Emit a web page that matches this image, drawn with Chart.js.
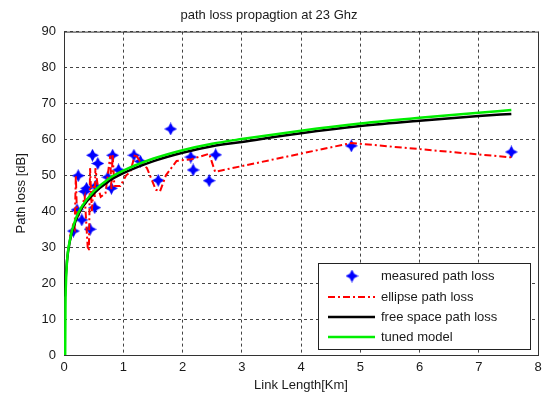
<!DOCTYPE html>
<html>
<head>
<meta charset="utf-8">
<script src="https://cdn.jsdelivr.net/npm/chart.js@4/dist/chart.umd.min.js"></script>
<style>
  html, body { margin: 0; padding: 0; background: #fff; }
  #wrap { width: 555px; height: 396px; }
</style>
</head>
<body>
<div id="wrap"><canvas id="chart" width="555" height="396"></canvas></div>
<script>
// values
const measuredKm = [0.16, 0.22, 0.24, 0.30, 0.35, 0.38, 0.44, 0.48, 0.52, 0.53, 0.57, 0.74, 0.80, 0.82, 0.92, 1.18, 1.29, 1.59, 1.80, 2.14, 2.18, 2.45, 2.56, 4.85, 7.55];
const measuredDb = [34.5, 40.4, 49.9, 37.6, 45.5, 46.4, 35.0, 55.6, 41.0, 47.0, 53.3, 49.5, 46.4, 55.6, 51.5, 55.6, 53.9, 48.6, 62.9, 55.1, 51.5, 48.5, 55.7, 58.2, 56.5];

const ellipseKm = [0.10, 0.15, 0.18, 0.20, 0.22, 0.28, 0.35, 0.40, 0.42, 0.44, 0.47, 0.50, 0.52, 0.53, 0.57, 0.62, 0.70, 0.78, 0.80, 0.82, 0.85, 0.95, 1.05, 1.12, 1.20, 1.28, 1.40, 1.55, 1.62, 1.72, 1.90, 2.15, 2.45, 2.55, 4.85, 7.55];
const ellipseDb = [33.0, 36.0, 35.0, 50.0, 38.0, 40.0, 44.0, 30.0, 29.0, 52.0, 40.0, 47.0, 44.0, 52.0, 47.0, 44.0, 45.0, 55.5, 46.0, 56.0, 47.0, 47.0, 50.0, 51.0, 56.0, 54.0, 52.0, 46.0, 45.5, 50.0, 54.0, 54.5, 56.0, 51.0, 59.0, 55.0];

const freeSpaceKm = [0.015, 0.02, 0.05, 0.1, 0.2, 0.3, 0.5, 0.75, 1, 1.5, 2, 2.5, 3, 4, 5, 6, 7, 7.55];
const freeSpaceDb = [16.3, 18.7, 26.1, 31.8, 37.5, 40.8, 44.9, 48.3, 50.6, 53.9, 56.3, 58.1, 59.3, 61.7, 63.7, 65.2, 66.5, 67.1];

const tunedKm = [0.02, 0.025, 0.03, 0.05, 0.1, 0.2, 0.3, 0.5, 0.75, 1, 1.5, 2, 2.5, 3, 4, 5, 6, 7, 7.55];
const tunedDb = [0, 14.0, 18.5, 25.8, 32.0, 38.0, 41.3, 45.5, 49.0, 51.3, 54.6, 57.0, 58.8, 60.1, 62.4, 64.4, 66.0, 67.4, 68.2];

const xTicks = [0, 1, 2, 3, 4, 5, 6, 7, 8];
const yTicks = [0, 10, 20, 30, 40, 50, 60, 70, 80, 90];

const legendLabels = ['measured path loss', 'ellipse path loss', 'free space path loss', 'tuned model'];

const FONT = '"Liberation Sans", Arial, sans-serif';
const TEXT = '#1a1a1a';

function toPoints(xs, ys) {
    return xs.map((x, i) => ({ x: x, y: ys[i] }));
}

// 4-point blue star marker, like the matlab one in the picture
function makeStar(size) {
    const c = document.createElement('canvas');
    c.width = size;
    c.height = size;
    const g = c.getContext('2d');
    const m = size / 2;
    const k = size * 0.17;
    g.fillStyle = '#0000ff';
    g.beginPath();
    g.moveTo(m, 0);
    g.lineTo(m + k, m - k);
    g.lineTo(size, m);
    g.lineTo(m + k, m + k);
    g.lineTo(m, size);
    g.lineTo(m - k, m + k);
    g.lineTo(0, m);
    g.lineTo(m - k, m - k);
    g.closePath();
    g.fill();
    return c;
}
const star = makeStar(13);

// solid box round the axes (matlab "box on")
const boxPlugin = {
    id: 'box',
    beforeDatasetsDraw(chart) {
        const { ctx, chartArea: a } = chart;
        ctx.save();
        ctx.strokeStyle = '#333';
        ctx.lineWidth = 1;
        ctx.setLineDash([]);
        ctx.strokeRect(a.left + 0.5, a.top + 0.5, a.right - a.left, a.bottom - a.top);
        ctx.restore();
    }
};

// legend drawn inside the plot, bottom right
const insideLegend = {
    id: 'insideLegend',
    afterDraw(chart) {
        const ctx = chart.ctx;
        const left = 318, top = 263, right = 530, bottom = 349;
        const rows = [276, 297, 317, 337];
        ctx.save();
        ctx.fillStyle = '#fff';
        ctx.fillRect(left, top, right - left, bottom - top);
        ctx.strokeStyle = '#222';
        ctx.lineWidth = 1;
        ctx.strokeRect(left + 0.5, top + 0.5, right - left, bottom - top);

        chart.data.datasets.forEach((ds, i) => {
            const y = rows[i];
            if (i === 0) {
                ctx.drawImage(star, 352 - 6.5, y - 6.5);
            } else {
                ctx.strokeStyle = ds.borderColor;
                ctx.lineWidth = ds.borderWidth;
                ctx.setLineDash(ds.borderDash || []);
                ctx.beginPath();
                ctx.moveTo(328, y);
                ctx.lineTo(375, y);
                ctx.stroke();
                ctx.setLineDash([]);
            }
            ctx.fillStyle = TEXT;
            ctx.font = '13px ' + FONT;
            ctx.textBaseline = 'middle';
            ctx.textAlign = 'left';
            ctx.fillText(legendLabels[i], 381, y);
        });
        ctx.restore();
    }
};

new Chart(document.getElementById('chart').getContext('2d'), {
    type: 'scatter',
    data: {
        datasets: [
            {
                label: legendLabels[0],
                data: toPoints(measuredKm, measuredDb),
                showLine: false,
                pointStyle: star,
                pointRadius: 6,
                order: 3
            },
            {
                label: legendLabels[1],
                data: toPoints(ellipseKm, ellipseDb),
                showLine: true,
                borderColor: '#ff0000',
                borderWidth: 2,
                borderDash: [7, 3, 2, 3],
                pointRadius: 0,
                tension: 0,
                order: 2
            },
            {
                label: legendLabels[2],
                data: toPoints(freeSpaceKm, freeSpaceDb),
                showLine: true,
                borderColor: '#000000',
                borderWidth: 2.5,
                pointRadius: 0,
                cubicInterpolationMode: 'monotone',
                order: 1
            },
            {
                label: legendLabels[3],
                data: toPoints(tunedKm, tunedDb),
                showLine: true,
                borderColor: '#00ee00',
                borderWidth: 2.5,
                pointRadius: 0,
                cubicInterpolationMode: 'monotone',
                order: 0
            }
        ]
    },
    options: {
        responsive: false,
        animation: false,
        devicePixelRatio: 1,
        layout: { padding: { left: 0, right: 17, top: 0, bottom: 0 } },
        plugins: {
            legend: { display: false },
            tooltip: { enabled: false },
            title: {
                display: true,
                text: 'path loss propagtion at 23 Ghz',
                color: TEXT,
                font: { family: FONT, size: 13, weight: 'normal' },
                padding: { top: 8, bottom: 8 }
            }
        },
        scales: {
            x: {
                type: 'linear',
                min: 0,
                max: 8,
                afterBuildTicks: s => { s.ticks = xTicks.map(v => ({ value: v })); },
                afterFit: s => { s.height = 41; },
                ticks: {
                    color: TEXT,
                    font: { family: FONT, size: 13 },
                    padding: 5,
                    maxRotation: 0
                },
                grid: {
                    color: '#444',
                    lineWidth: 1,
                    drawTicks: false
                },
                border: { display: false, dash: [3, 3] },
                title: {
                    display: true,
                    text: 'Link Length[Km]',
                    color: TEXT,
                    font: { family: FONT, size: 13 },
                    padding: { top: 0, bottom: 3 }
                }
            },
            y: {
                type: 'linear',
                min: 0,
                max: 90,
                afterBuildTicks: s => { s.ticks = yTicks.map(v => ({ value: v })); },
                afterFit: s => { s.width = 64; },
                ticks: {
                    color: TEXT,
                    font: { family: FONT, size: 13 },
                    padding: 8
                },
                grid: {
                    color: '#444',
                    lineWidth: 1,
                    drawTicks: false
                },
                border: { display: false, dash: [3, 3] },
                title: {
                    display: true,
                    text: 'Path loss [dB]',
                    color: TEXT,
                    font: { family: FONT, size: 13 },
                    padding: { top: 14, bottom: 0 }
                }
            }
        }
    },
    plugins: [boxPlugin, insideLegend]
});
</script>
</body>
</html>
